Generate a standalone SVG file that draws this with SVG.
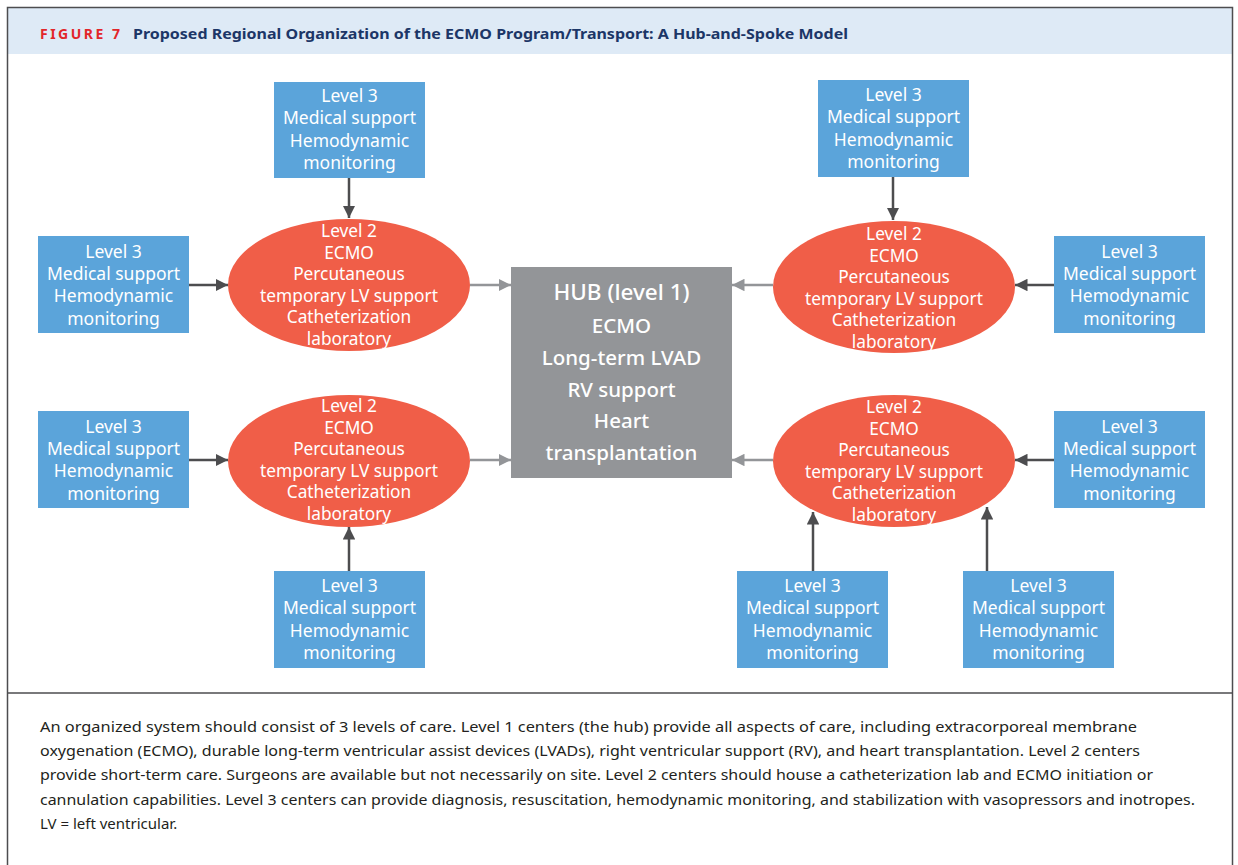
<svg xmlns="http://www.w3.org/2000/svg" width="1238" height="865" viewBox="0 0 1238 865">
<defs>
<style>
.l3{fill:#5BA4DA}
.l2{fill:#F05E48}
.t{font-family:"Noto Sans","Open Sans",sans-serif;fill:#fff;text-anchor:middle}
.bt{font-size:17.5px}
.et{font-size:17.3px}
.ht{font-size:20.5px;font-weight:500}
.dk{stroke:#4D4D4F;stroke-width:2.5;fill:none}
.lt{stroke:#939598;stroke-width:2.5;fill:none}
.cap{font-family:"Noto Sans","Open Sans",sans-serif;font-size:15px;fill:#231F20}
</style>
<marker id="ad" viewBox="0 0 10 10" refX="10" refY="5" markerWidth="5" markerHeight="5" orient="auto" markerUnits="strokeWidth"><path d="M0,0 L10,5 L0,10 z" fill="#4D4D4F"/></marker>
<marker id="al" viewBox="0 0 10 10" refX="10" refY="5" markerWidth="5" markerHeight="5" orient="auto" markerUnits="strokeWidth"><path d="M0,0 L10,5 L0,10 z" fill="#939598"/></marker>
</defs>
<rect x="0" y="0" width="1238" height="865" fill="#fff"/>
<rect x="8" y="8" width="1224" height="46" fill="#DEEAF6"/>
<rect x="7.5" y="7.5" width="1225" height="870" fill="none" stroke="#4D4D4F" stroke-width="1.5"/>
<line x1="7" y1="693" x2="1233" y2="693" stroke="#4D4D4F" stroke-width="1.5"/>
<text x="40" y="39" font-family="'Noto Sans','Open Sans',sans-serif" font-size="14" font-weight="bold" fill="#E2262A" textLength="80" lengthAdjust="spacing">FIGURE 7</text>
<text x="133" y="39" font-family="'Noto Sans','Open Sans',sans-serif" font-size="15" font-weight="bold" fill="#1C3667" textLength="715" lengthAdjust="spacingAndGlyphs">Proposed Regional Organization of the ECMO Program/Transport: A Hub-and-Spoke Model</text>

<g id="connectors">
<line class="dk" x1="349" y1="177" x2="349" y2="218" marker-end="url(#ad)"/>
<line class="dk" x1="189" y1="285" x2="228" y2="285" marker-end="url(#ad)"/>
<line class="lt" x1="470" y1="285" x2="511" y2="285" marker-end="url(#al)"/>
<line class="dk" x1="189" y1="460" x2="228" y2="460" marker-end="url(#ad)"/>
<line class="lt" x1="470" y1="460" x2="511" y2="460" marker-end="url(#al)"/>
<line class="dk" x1="349" y1="571" x2="349" y2="527" marker-end="url(#ad)"/>
<line class="dk" x1="893" y1="177" x2="893" y2="220" marker-end="url(#ad)"/>
<line class="dk" x1="1054" y1="285" x2="1015" y2="285" marker-end="url(#ad)"/>
<line class="lt" x1="773" y1="285" x2="732" y2="285" marker-end="url(#al)"/>
<line class="dk" x1="1054" y1="460" x2="1015" y2="460" marker-end="url(#ad)"/>
<line class="lt" x1="773" y1="460" x2="732" y2="460" marker-end="url(#al)"/>
<line class="dk" x1="813" y1="571" x2="813" y2="512" marker-end="url(#ad)"/>
<line class="dk" x1="987" y1="571" x2="987" y2="507" marker-end="url(#ad)"/>
</g>

<g id="hub">
<rect x="511" y="267" width="221" height="211" fill="#939598"/>
<text class="t" x="621.5" y="300" font-size="22.5" font-weight="500">HUB (level 1)</text>
<text class="t ht" x="621.5" y="333">ECMO</text>
<text class="t ht" x="621.5" y="365">Long-term LVAD</text>
<text class="t ht" x="621.5" y="397">RV support</text>
<text class="t ht" x="621.5" y="428">Heart</text>
<text class="t ht" x="621.5" y="460">transplantation</text>
</g>

<g id="l2-ul">
<ellipse class="l2" cx="349" cy="285" rx="121" ry="66"/>
<text class="t et" x="349" y="237">Level 2</text>
<text class="t et" x="349" y="259">ECMO</text>
<text class="t et" x="349" y="280">Percutaneous</text>
<text class="t et" x="349" y="302">temporary LV support</text>
<text class="t et" x="349" y="323">Catheterization</text>
<text class="t et" x="349" y="345">laboratory</text>
</g>
<g id="l2-ll">
<ellipse class="l2" cx="349" cy="461" rx="121" ry="66"/>
<text class="t et" x="349" y="412">Level 2</text>
<text class="t et" x="349" y="434">ECMO</text>
<text class="t et" x="349" y="455">Percutaneous</text>
<text class="t et" x="349" y="477">temporary LV support</text>
<text class="t et" x="349" y="498">Catheterization</text>
<text class="t et" x="349" y="520">laboratory</text>
</g>
<g id="l2-ur">
<ellipse class="l2" cx="894" cy="287" rx="121" ry="66"/>
<text class="t et" x="894" y="240">Level 2</text>
<text class="t et" x="894" y="262">ECMO</text>
<text class="t et" x="894" y="283">Percutaneous</text>
<text class="t et" x="894" y="305">temporary LV support</text>
<text class="t et" x="894" y="326">Catheterization</text>
<text class="t et" x="894" y="348">laboratory</text>
</g>
<g id="l2-lr">
<ellipse class="l2" cx="894" cy="461" rx="121" ry="66"/>
<text class="t et" x="894" y="413">Level 2</text>
<text class="t et" x="894" y="435">ECMO</text>
<text class="t et" x="894" y="456">Percutaneous</text>
<text class="t et" x="894" y="478">temporary LV support</text>
<text class="t et" x="894" y="499">Catheterization</text>
<text class="t et" x="894" y="521">laboratory</text>
</g>

<g id="l3-top-left">
<rect class="l3" x="274" y="82" width="151" height="96"/>
<text class="t bt" x="349.5" y="102">Level 3</text>
<text class="t bt" x="349.5" y="124">Medical support</text>
<text class="t bt" x="349.5" y="147">Hemodynamic</text>
<text class="t bt" x="349.5" y="169">monitoring</text>
</g>
<g id="l3-left-upper">
<rect class="l3" x="38" y="236" width="151" height="97"/>
<text class="t bt" x="113.5" y="258">Level 3</text>
<text class="t bt" x="113.5" y="280">Medical support</text>
<text class="t bt" x="113.5" y="302">Hemodynamic</text>
<text class="t bt" x="113.5" y="325">monitoring</text>
</g>
<g id="l3-left-lower">
<rect class="l3" x="38" y="411" width="151" height="97"/>
<text class="t bt" x="113.5" y="433">Level 3</text>
<text class="t bt" x="113.5" y="455">Medical support</text>
<text class="t bt" x="113.5" y="477">Hemodynamic</text>
<text class="t bt" x="113.5" y="500">monitoring</text>
</g>
<g id="l3-bottom-left">
<rect class="l3" x="274" y="571" width="151" height="97"/>
<text class="t bt" x="349.5" y="592">Level 3</text>
<text class="t bt" x="349.5" y="614">Medical support</text>
<text class="t bt" x="349.5" y="637">Hemodynamic</text>
<text class="t bt" x="349.5" y="659">monitoring</text>
</g>
<g id="l3-top-right">
<rect class="l3" x="818" y="80" width="151" height="97"/>
<text class="t bt" x="893.5" y="101">Level 3</text>
<text class="t bt" x="893.5" y="123">Medical support</text>
<text class="t bt" x="893.5" y="146">Hemodynamic</text>
<text class="t bt" x="893.5" y="168">monitoring</text>
</g>
<g id="l3-right-upper">
<rect class="l3" x="1054" y="236" width="151" height="97"/>
<text class="t bt" x="1129.5" y="258">Level 3</text>
<text class="t bt" x="1129.5" y="280">Medical support</text>
<text class="t bt" x="1129.5" y="302">Hemodynamic</text>
<text class="t bt" x="1129.5" y="325">monitoring</text>
</g>
<g id="l3-right-lower">
<rect class="l3" x="1054" y="411" width="151" height="97"/>
<text class="t bt" x="1129.5" y="433">Level 3</text>
<text class="t bt" x="1129.5" y="455">Medical support</text>
<text class="t bt" x="1129.5" y="477">Hemodynamic</text>
<text class="t bt" x="1129.5" y="500">monitoring</text>
</g>
<g id="l3-bottom-right-1">
<rect class="l3" x="737" y="571" width="151" height="97"/>
<text class="t bt" x="812.5" y="592">Level 3</text>
<text class="t bt" x="812.5" y="614">Medical support</text>
<text class="t bt" x="812.5" y="637">Hemodynamic</text>
<text class="t bt" x="812.5" y="659">monitoring</text>
</g>
<g id="l3-bottom-right-2">
<rect class="l3" x="963" y="571" width="151" height="97"/>
<text class="t bt" x="1038.5" y="592">Level 3</text>
<text class="t bt" x="1038.5" y="614">Medical support</text>
<text class="t bt" x="1038.5" y="637">Hemodynamic</text>
<text class="t bt" x="1038.5" y="659">monitoring</text>
</g>

<g id="caption">
<text class="cap" x="40" y="732" textLength="1097" lengthAdjust="spacingAndGlyphs">An organized system should consist of 3 levels of care. Level 1 centers (the hub) provide all aspects of care, including extracorporeal membrane</text>
<text class="cap" x="40" y="756" textLength="1100" lengthAdjust="spacingAndGlyphs">oxygenation (ECMO), durable long-term ventricular assist devices (LVADs), right ventricular support (RV), and heart transplantation. Level 2 centers</text>
<text class="cap" x="40" y="780" textLength="1113" lengthAdjust="spacingAndGlyphs">provide short-term care. Surgeons are available but not necessarily on site. Level 2 centers should house a catheterization lab and ECMO initiation or</text>
<text class="cap" x="40" y="805" textLength="1155" lengthAdjust="spacingAndGlyphs">cannulation capabilities. Level 3 centers can provide diagnosis, resuscitation, hemodynamic monitoring, and stabilization with vasopressors and inotropes.</text>
<text class="cap" x="40" y="829">LV = left ventricular.</text>
</g>
</svg>
